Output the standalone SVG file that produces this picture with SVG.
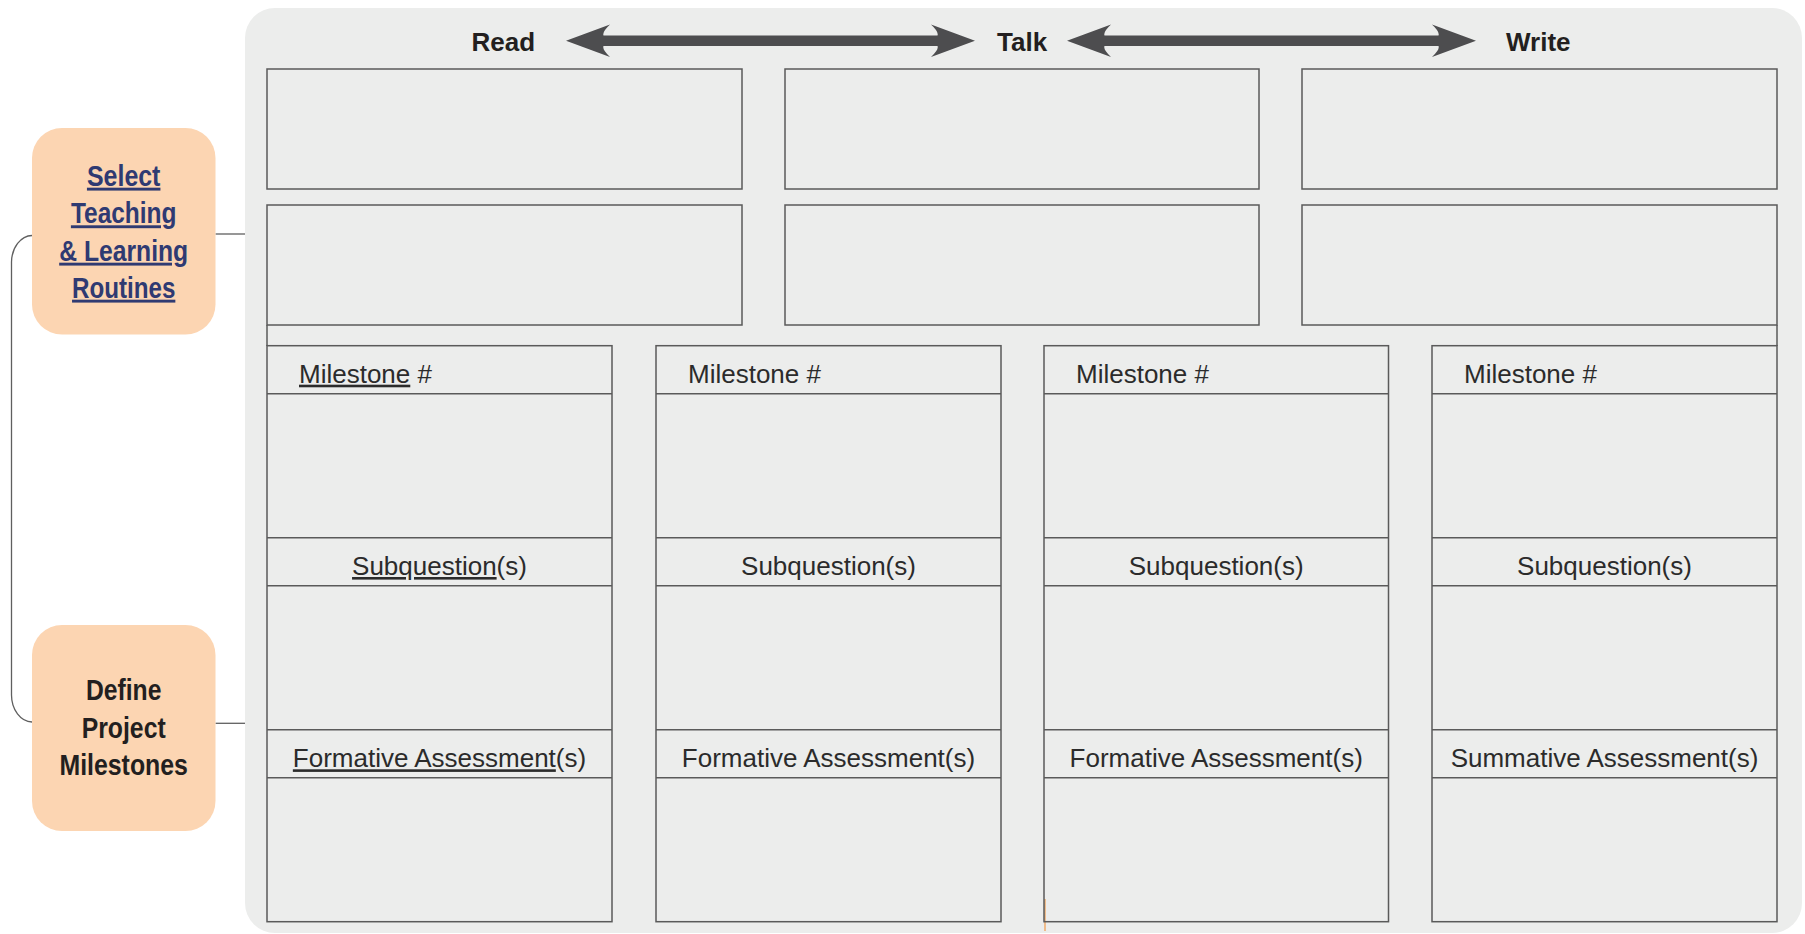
<svg xmlns="http://www.w3.org/2000/svg" width="1805" height="934" viewBox="0 0 1805 934">
<defs>
<style>
.panel{fill:#ecedec;}
.box{fill:none;stroke:#5a5a5a;stroke-width:1.5;}
.ln{fill:none;stroke:#5a5a5a;stroke-width:1.5;}
.conn{fill:none;stroke:#5f5f5f;stroke-width:1.3;}
.arrow{fill:#4d4d4f;}
.orange{fill:#fcd5b2;}
.hdr{font-family:"Liberation Sans",Arial,sans-serif;font-weight:bold;font-size:26px;fill:#231f20;}
.lbl{font-family:"Liberation Sans",Arial,sans-serif;font-size:26px;fill:#2b2b2b;}
.ctr{text-anchor:middle;}
.step{font-family:"Liberation Sans Narrow","Liberation Sans",Arial,sans-serif;font-weight:bold;font-size:29px;text-anchor:middle;}
.nav{fill:#2f3a72;text-decoration:underline;}
.blk{fill:#231f20;}
</style>
</defs>

<rect class="panel" x="245" y="8" width="1557" height="925" rx="30" ry="30"/>

<g id="connectors">
  <line class="conn" x1="215.5" y1="234" x2="245" y2="234"/>
  <line class="conn" x1="215.5" y1="723.3" x2="245" y2="723.3"/>
  <path class="conn" d="M32,235.5 A21,27 0 0 0 11.5,262 L11.5,695 A21,27 0 0 0 32,722"/>
  <path class="arrow" d="M566,40.7 L610,24.5 Q602,32 603.5,35.4 L937.5,35.4 Q939,32 931,24.5 L975,40.7 L931,56.9 Q939,49.4 937.5,46 L603.5,46 Q602,49.4 610,56.9 Z"/>
  <path class="arrow" d="M1067,40.7 L1111,24.5 Q1103,32 1104.5,35.4 L1438.5,35.4 Q1440,32 1432,24.5 L1476,40.7 L1432,56.9 Q1440,49.4 1438.5,46 L1104.5,46 Q1103,49.4 1111,56.9 Z"/>
  <line class="ln" x1="267" y1="325" x2="267" y2="346"/>
  <line class="ln" x1="1777" y1="325" x2="1777" y2="346"/>
  <line x1="1045" y1="899" x2="1045" y2="931" stroke="#f29a4a" stroke-width="1.2"/>
</g>

<g id="node-select-routines">
  <rect class="orange" x="32" y="128" width="183.5" height="206.5" rx="30" ry="30"/>
  <text class="step nav" x="123.7" y="185.7" textLength="73.5" lengthAdjust="spacingAndGlyphs">Select</text>
  <text class="step nav" x="123.7" y="223.3" textLength="105.6" lengthAdjust="spacingAndGlyphs">Teaching</text>
  <text class="step nav" x="123.7" y="260.7" textLength="129" lengthAdjust="spacingAndGlyphs">&amp; Learning</text>
  <text class="step nav" x="123.7" y="297.7" textLength="103.3" lengthAdjust="spacingAndGlyphs">Routines</text>
</g>

<g id="node-define-milestones">
  <rect class="orange" x="32" y="625" width="183.5" height="206" rx="30" ry="30"/>
  <text class="step blk" x="123.7" y="700" textLength="75.5" lengthAdjust="spacingAndGlyphs">Define</text>
  <text class="step blk" x="123.7" y="738" textLength="84" lengthAdjust="spacingAndGlyphs">Project</text>
  <text class="step blk" x="123.7" y="775" textLength="128.5" lengthAdjust="spacingAndGlyphs">Milestones</text>
</g>

<g id="node-headers">
  <text class="hdr" x="471.5" y="50.7">Read</text>
  <text class="hdr" x="997" y="50.7">Talk</text>
  <text class="hdr" x="1506" y="50.7">Write</text>
</g>

<g id="node-routine-boxes">
  <rect class="box" x="267" y="69" width="475" height="120"/>
  <rect class="box" x="785" y="69" width="474" height="120"/>
  <rect class="box" x="1302" y="69" width="475" height="120"/>
  <rect class="box" x="267" y="205" width="475" height="120"/>
  <rect class="box" x="785" y="205" width="474" height="120"/>
  <rect class="box" x="1302" y="205" width="475" height="120"/>
</g>

<g id="node-milestone-1">
  <rect class="box" x="267" y="345.7" width="345" height="576"/>
  <line class="ln" x1="267" y1="393.7" x2="612" y2="393.7"/>
  <line class="ln" x1="267" y1="537.7" x2="612" y2="537.7"/>
  <line class="ln" x1="267" y1="585.7" x2="612" y2="585.7"/>
  <line class="ln" x1="267" y1="729.7" x2="612" y2="729.7"/>
  <line class="ln" x1="267" y1="777.7" x2="612" y2="777.7"/>
  <text class="lbl" x="299" y="382.7"><tspan text-decoration="underline">Milestone</tspan> #</text>
  <text class="lbl ctr" x="439.5" y="575"><tspan text-decoration="underline">Subquestion</tspan>(s)</text>
  <text class="lbl ctr" x="439.5" y="767.3"><tspan text-decoration="underline">Formative Assessment</tspan>(s)</text>
</g>

<g id="node-milestone-2">
  <rect class="box" x="656" y="345.7" width="345" height="576"/>
  <line class="ln" x1="656" y1="393.7" x2="1001" y2="393.7"/>
  <line class="ln" x1="656" y1="537.7" x2="1001" y2="537.7"/>
  <line class="ln" x1="656" y1="585.7" x2="1001" y2="585.7"/>
  <line class="ln" x1="656" y1="729.7" x2="1001" y2="729.7"/>
  <line class="ln" x1="656" y1="777.7" x2="1001" y2="777.7"/>
  <text class="lbl" x="688" y="382.7">Milestone #</text>
  <text class="lbl ctr" x="828.5" y="575">Subquestion(s)</text>
  <text class="lbl ctr" x="828.5" y="767.3">Formative Assessment(s)</text>
</g>

<g id="node-milestone-3">
  <rect class="box" x="1044" y="345.7" width="344.5" height="576"/>
  <line class="ln" x1="1044" y1="393.7" x2="1388.5" y2="393.7"/>
  <line class="ln" x1="1044" y1="537.7" x2="1388.5" y2="537.7"/>
  <line class="ln" x1="1044" y1="585.7" x2="1388.5" y2="585.7"/>
  <line class="ln" x1="1044" y1="729.7" x2="1388.5" y2="729.7"/>
  <line class="ln" x1="1044" y1="777.7" x2="1388.5" y2="777.7"/>
  <text class="lbl" x="1076" y="382.7">Milestone #</text>
  <text class="lbl ctr" x="1216.2" y="575">Subquestion(s)</text>
  <text class="lbl ctr" x="1216.2" y="767.3">Formative Assessment(s)</text>
</g>

<g id="node-milestone-4">
  <rect class="box" x="1432" y="345.7" width="345" height="576"/>
  <line class="ln" x1="1432" y1="393.7" x2="1777" y2="393.7"/>
  <line class="ln" x1="1432" y1="537.7" x2="1777" y2="537.7"/>
  <line class="ln" x1="1432" y1="585.7" x2="1777" y2="585.7"/>
  <line class="ln" x1="1432" y1="729.7" x2="1777" y2="729.7"/>
  <line class="ln" x1="1432" y1="777.7" x2="1777" y2="777.7"/>
  <text class="lbl" x="1464" y="382.7">Milestone #</text>
  <text class="lbl ctr" x="1604.5" y="575">Subquestion(s)</text>
  <text class="lbl ctr" x="1604.5" y="767.3">Summative Assessment(s)</text>
</g>
</svg>
